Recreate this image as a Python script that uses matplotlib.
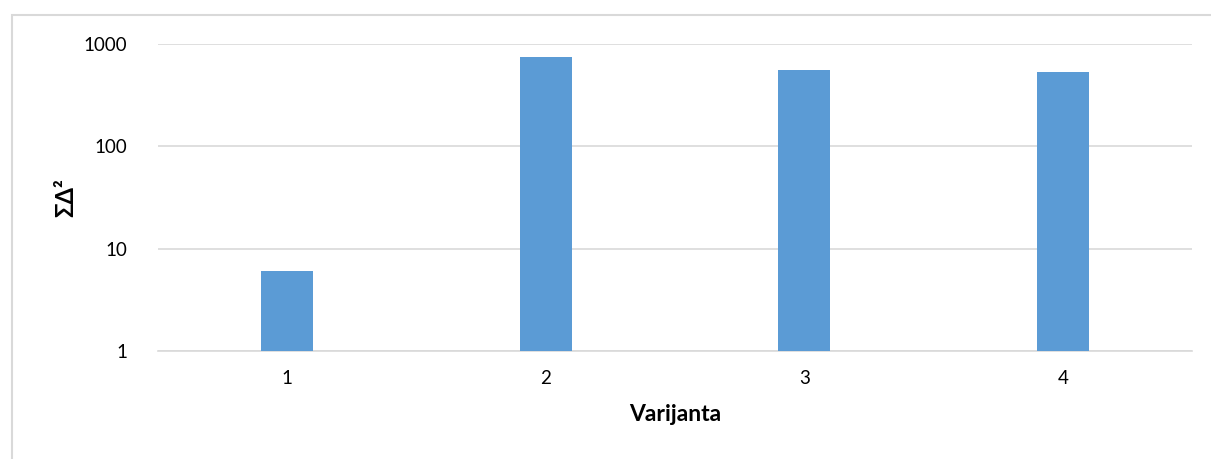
import matplotlib
matplotlib.use("Agg")
import matplotlib.pyplot as plt
from matplotlib.patches import Rectangle

categories = ["1", "2", "3", "4"]
values = [6.0, 745, 560, 530]

plt.rcParams['font.family'] = ['Lato', 'DejaVu Sans']

W, H = 1211, 459
fig = plt.figure(figsize=(W / 100, H / 100), dpi=100)

# outer chart border (top and left visible)
fig.patches.append(Rectangle((12 / W, -0.1), 1.2, (H - 15) / H + 0.1,
                             transform=fig.transFigure, fill=False,
                             edgecolor='#D9D9D9', linewidth=1.5))

left, right, top, bottom = 158, 1192, 44, 351
ax = fig.add_axes([left / W, 1 - bottom / H, (right - left) / W, (bottom - top) / H])

x = list(range(len(categories)))
ax.bar(x, values, width=0.2, color='#5B9BD5', zorder=3)
ax.set_yscale('log')
ax.set_ylim(1, 1000)
ax.set_xlim(-0.5, len(categories) - 0.5)

ax.set_yticks([1, 10, 100, 1000])
ax.set_yticklabels(["1", "10", "100", "1000"])
ax.minorticks_off()
ax.set_xticks(x)
ax.set_xticklabels(categories)

ax.grid(axis='y', color='#D9D9D9', linewidth=1.2, zorder=0)
for s in ['top', 'right', 'left']:
    ax.spines[s].set_visible(False)
ax.spines['bottom'].set_color('#D9D9D9')
ax.spines['bottom'].set_linewidth(1.2)
ax.tick_params(axis='both', length=0, labelsize=13.5, colors='#000000')
ax.tick_params(axis='y', pad=22)
ax.tick_params(axis='x', pad=14)

ax.set_xlabel("Varijanta", fontsize=16.5, fontweight='bold', labelpad=12)
ax.set_ylabel("ΣΔ²", fontsize=17, fontweight='bold', labelpad=5)

fig.savefig("out.png", dpi=100, facecolor='white')
